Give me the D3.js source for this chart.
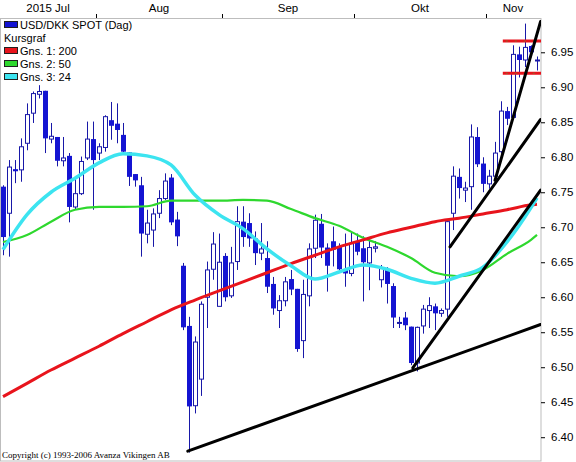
<!DOCTYPE html>
<html>
<head>
<meta charset="utf-8">
<script src="https://cdn.jsdelivr.net/npm/d3@7"></script>
<style>
  html, body { margin: 0; padding: 0; background: #fff; }
  svg { display: block; font-family: "Liberation Sans", Arial, sans-serif; }
</style>
</head>
<body>
<svg id="chart" width="576" height="462"></svg>
<script>
// ---------- DATA ----------
// Daily candles, 2015-07-10 .. 2015-11-12  (open, high, low, close)
const opens  = [6.758,6.720,6.783,6.782,6.820,6.863,6.890,6.895,6.826,6.829,6.795,6.802,6.729,6.748,6.799,6.826,
                6.806,6.814,6.853,6.848,6.832,6.807,6.776,6.760,6.690,6.696,6.720,6.741,6.771,6.711,6.645,6.559,6.445,6.483,6.600,6.640,6.587,
                6.659,6.602,6.651,6.708,6.706,6.684,6.663,6.656,6.619,6.581,6.595,6.626,6.612,6.538,6.602,6.670,6.705,6.671,6.680,6.672,6.639,6.634,
                6.680,6.670,6.649,6.670,6.625,6.640,6.616,6.563,6.571,6.558,6.506,6.559,6.581,6.587,6.577,6.583,6.720,6.772,6.753,6.758,6.829,6.791,
                6.762,6.773,6.808,6.866,6.857,6.947,6.939,6.959,6.938];
const highs  = [6.760,6.796,6.796,6.827,6.877,6.894,6.903,6.895,6.849,6.829,6.829,6.806,6.772,6.801,6.851,6.851,
                6.820,6.860,6.879,6.877,6.849,6.807,6.776,6.772,6.725,6.727,6.753,6.777,6.776,6.722,6.649,6.572,6.544,6.594,6.651,6.693,6.691,
                6.663,6.672,6.730,6.730,6.720,6.694,6.706,6.680,6.629,6.603,6.629,6.639,6.612,6.625,6.677,6.718,6.719,6.677,6.701,6.677,6.691,6.694,
                6.691,6.687,6.684,6.680,6.646,6.643,6.620,6.572,6.579,6.558,6.558,6.589,6.600,6.591,6.584,6.710,6.787,6.784,6.765,6.847,6.843,6.800,
                6.782,6.822,6.880,6.872,6.960,6.958,6.991,6.960,6.944];
const lows   = [6.660,6.658,6.763,6.765,6.810,6.849,6.884,6.806,6.820,6.787,6.787,6.707,6.725,6.746,6.796,6.725,
                6.796,6.808,6.825,6.820,6.806,6.759,6.758,6.658,6.677,6.672,6.713,6.739,6.703,6.673,6.553,6.378,6.434,6.459,6.556,6.625,6.587,
                6.594,6.599,6.639,6.672,6.672,6.646,6.653,6.606,6.575,6.556,6.587,6.603,6.522,6.513,6.587,6.656,6.656,6.608,6.644,6.637,6.615,6.630,
                6.660,6.594,6.610,6.664,6.614,6.591,6.556,6.556,6.553,6.503,6.494,6.548,6.556,6.553,6.572,6.572,6.696,6.741,6.736,6.725,6.786,6.750,
                6.755,6.767,6.805,6.846,6.857,6.914,6.929,6.943,6.924];
const closes = [6.686,6.786,6.780,6.815,6.861,6.891,6.894,6.827,6.830,6.795,6.799,6.729,6.748,6.794,6.826,6.796,
                6.815,6.858,6.845,6.839,6.808,6.772,6.767,6.691,6.706,6.719,6.741,6.766,6.707,6.687,6.557,6.444,6.536,6.590,6.639,6.676,6.650,
                6.600,6.649,6.708,6.686,6.684,6.663,6.669,6.615,6.584,6.595,6.622,6.611,6.526,6.604,6.669,6.710,6.671,6.645,6.668,6.640,6.634,6.677,
                6.665,6.650,6.671,6.672,6.641,6.619,6.571,6.564,6.560,6.506,6.557,6.583,6.588,6.577,6.581,6.708,6.773,6.756,6.756,6.829,6.790,6.762,
                6.773,6.806,6.866,6.855,6.947,6.939,6.957,6.950,6.939];

// Month labels (top axis) and index of the first candle of each month
const monthLabels = ["2015 Jul", "Aug", "Sep", "Okt", "Nov"];
const monthStart  = [0, 16, 37, 59, 81];

// Y tick values
const yTicks = [6.40, 6.45, 6.50, 6.55, 6.60, 6.65, 6.70, 6.75, 6.80, 6.85, 6.90, 6.95];

const maIdx = [0,4,8,12,16,20,24,28,32,36,40,44,48,52,56,60,64,68,72,76,80,84,88,89];
const ma200 = [6.458,6.477,6.496,6.513,6.530,6.548,6.565,6.582,6.596,6.609,6.622,6.635,6.648,6.660,6.672,6.682,6.692,6.700,6.708,6.713,6.719,6.725,6.732,6.733];
const ma50  = [6.679,6.689,6.708,6.725,6.729,6.729,6.730,6.738,6.738,6.738,6.739,6.738,6.726,6.713,6.702,6.685,6.672,6.656,6.635,6.630,6.639,6.662,6.682,6.689];
const ma24  = [6.668,6.718,6.750,6.770,6.792,6.805,6.802,6.789,6.746,6.718,6.698,6.669,6.645,6.626,6.636,6.646,6.640,6.627,6.620,6.630,6.643,6.679,6.728,6.742];

// Hand-drawn trend lines: [startIndex, startPrice, endIndex, endPrice]
const trendLines = [
  [30.8, 6.380, 89.6, 6.561],
  [68.3, 6.499, 89.6, 6.753],
  [74.5, 6.672, 89.6, 6.854],
  [82.0, 6.767, 89.6, 6.994]
];
// Horizontal level lines (red) and the index they start at
const levels = [6.966, 6.920];
const levelStart = 83.3;

// Legend entries
const legendSeries = ["USD/DKK SPOT (Dag)"];
const legendTitle  = "Kursgraf";
const legendMA     = ["Gns. 1: 200", "Gns. 2: 50", "Gns. 3: 24"];
const copyright    = "Copyright (c) 1993-2006 Avanza Vikingen AB";

// ---------- LAYOUT ----------
const pL = 1, pR = 541, pT = 18, pB = 461;
const N = opens.length;
const candles = d3.range(N).map(i => ({i, o: opens[i], h: highs[i], l: lows[i], c: closes[i]}));

const svg = d3.select("#chart");
const x  = d3.scaleBand().domain(d3.range(N)).range([0, 540]).padding(0);
const xi = d3.scaleLinear().domain([0, N - 1]).range([x(0) + x.bandwidth()/2, x(N-1) + x.bandwidth()/2]);
const y  = d3.scaleLinear().domain([6.366, 6.999]).range([pB, pT]);

const BLUE_FILL = "#1414d2", BLUE_LINE = "#1818a8";
const RED = "#e8141c", GREEN = "#2ed82e", CYAN = "#3ce4f0";

svg.append("rect").attr("width", 576).attr("height", 462).attr("fill", "#fff");

svg.append("defs").append("clipPath").attr("id", "plotclip")
  .append("rect").attr("x", pL).attr("y", pT).attr("width", pR - pL).attr("height", pB - pT);

// plot border
svg.append("rect").attr("x", pL - 0.5).attr("y", pT + 0.5)
  .attr("width", pR - pL + 0.5).attr("height", pB - pT - 0.5)
  .attr("fill", "none").attr("stroke", "#bdbdbd").attr("stroke-width", 1);

// ---------- TOP AXIS (months) ----------
const bounds = monthStart.map(s => x(s)).concat([540]);
const topAxis = svg.append("g");
topAxis.selectAll("line").data(monthStart.slice(1)).join("line")
  .attr("x1", d => Math.round(x(d)) + 0.5).attr("x2", d => Math.round(x(d)) + 0.5)
  .attr("y1", pT - 4).attr("y2", pT)
  .attr("stroke", "#000");
topAxis.selectAll("text").data(monthLabels).join("text")
  .attr("x", (d, k) => (bounds[k] + bounds[k + 1]) / 2)
  .attr("y", 12)
  .attr("text-anchor", "middle")
  .attr("font-size", "11.5px")
  .attr("fill", "#000")
  .text(d => d);

// ---------- RIGHT AXIS ----------
const yAxis = d3.axisRight(y).tickValues(yTicks).tickSize(4).tickPadding(6).tickFormat(d3.format(".2f"));
const ya = svg.append("g").attr("transform", `translate(${pR},0)`).call(yAxis);
ya.select(".domain").remove();
ya.selectAll("text").attr("font-size", "11.5px").attr("fill", "#000")
  .attr("font-family", "Liberation Sans, Arial, sans-serif");
ya.selectAll("line").attr("stroke", "#000");

// ---------- PLOT CONTENT ----------
const plot = svg.append("g").attr("clip-path", "url(#plotclip)");

// candles
const cg = plot.append("g");
const cx = i => x(i) + x.bandwidth() / 2;
cg.selectAll("line.wick").data(candles).join("line").attr("class", "wick")
  .attr("x1", d => cx(d.i) + 0.5).attr("x2", d => cx(d.i) + 0.5)
  .attr("y1", d => y(d.h)).attr("y2", d => y(d.l))
  .attr("stroke", BLUE_LINE).attr("stroke-width", 1);
cg.selectAll("rect.body").data(candles).join("rect").attr("class", "body")
  .each(function (d) {
    const up = d.c >= d.o;
    const yt = y(Math.max(d.o, d.c)), yb = y(Math.min(d.o, d.c));
    const r = d3.select(this);
    if (up) {
      r.attr("x", cx(d.i) - 1.5).attr("width", 4)
       .attr("y", yt).attr("height", Math.max(1, yb - yt))
       .attr("fill", "#fff").attr("stroke", BLUE_LINE).attr("stroke-width", 1);
    } else {
      r.attr("x", cx(d.i) - 2).attr("width", 5)
       .attr("y", yt).attr("height", Math.max(1.5, yb - yt))
       .attr("fill", BLUE_FILL).attr("stroke", "none");
    }
  });

// moving averages
const maLine = arr => d3.line().curve(d3.curveMonotoneX)
  .x((d, k) => xi(maIdx[k])).y(d => y(d))(arr);
plot.append("path").attr("d", maLine(ma50)).attr("fill", "none").attr("stroke", GREEN).attr("stroke-width", 2.2);
plot.append("path").attr("d", maLine(ma200)).attr("fill", "none").attr("stroke", RED).attr("stroke-width", 3);
plot.append("path").attr("d", maLine(ma24)).attr("fill", "none").attr("stroke", CYAN).attr("stroke-width", 3.5);

// horizontal level lines
plot.selectAll("line.level").data(levels).join("line").attr("class", "level")
  .attr("x1", xi(levelStart)).attr("x2", pR)
  .attr("y1", d => y(d)).attr("y2", d => y(d))
  .attr("stroke", RED).attr("stroke-width", 3);
plot.selectAll("line.leveldash").data(levels).join("line").attr("class", "leveldash")
  .attr("x1", xi(levelStart) + 3).attr("x2", pR)
  .attr("y1", d => y(d)).attr("y2", d => y(d))
  .attr("stroke", "#8a6a2a").attr("stroke-width", 1).attr("stroke-dasharray", "2,7");

// trend lines
plot.selectAll("line.trend").data(trendLines).join("line").attr("class", "trend")
  .attr("x1", d => xi(d[0])).attr("y1", d => y(d[1]))
  .attr("x2", d => xi(d[2])).attr("y2", d => y(d[3]))
  .attr("stroke", "#000").attr("stroke-width", 3).attr("stroke-linecap", "round");

// ---------- LEGEND ----------
const lg = svg.append("g").attr("font-size", "11px").attr("fill", "#000");
const legendRows = [
  {box: BLUE_FILL, text: legendSeries[0], y: 29},
  {box: null, text: legendTitle, y: 42},
  {box: RED, text: legendMA[0], y: 55},
  {box: GREEN, text: legendMA[1], y: 68},
  {box: CYAN, text: legendMA[2], y: 81}
];
legendRows.forEach(r => {
  if (r.box) {
    lg.append("rect").attr("x", 4.5).attr("y", r.y - 7.5).attr("width", 13).attr("height", 6)
      .attr("fill", r.box).attr("stroke", "#202020").attr("stroke-width", 1);
    lg.append("text").attr("x", 20).attr("y", r.y).text(r.text);
  } else {
    lg.append("text").attr("x", 4).attr("y", r.y).text(r.text);
  }
});

// copyright (serif, as in the reference)
svg.append("text").attr("x", 2).attr("y", 457.5)
  .style("font-family", "'Liberation Serif', 'Times New Roman', serif")
  .style("font-size", "9px").attr("fill", "#000")
  .text(copyright);
</script>
</body>
</html>
